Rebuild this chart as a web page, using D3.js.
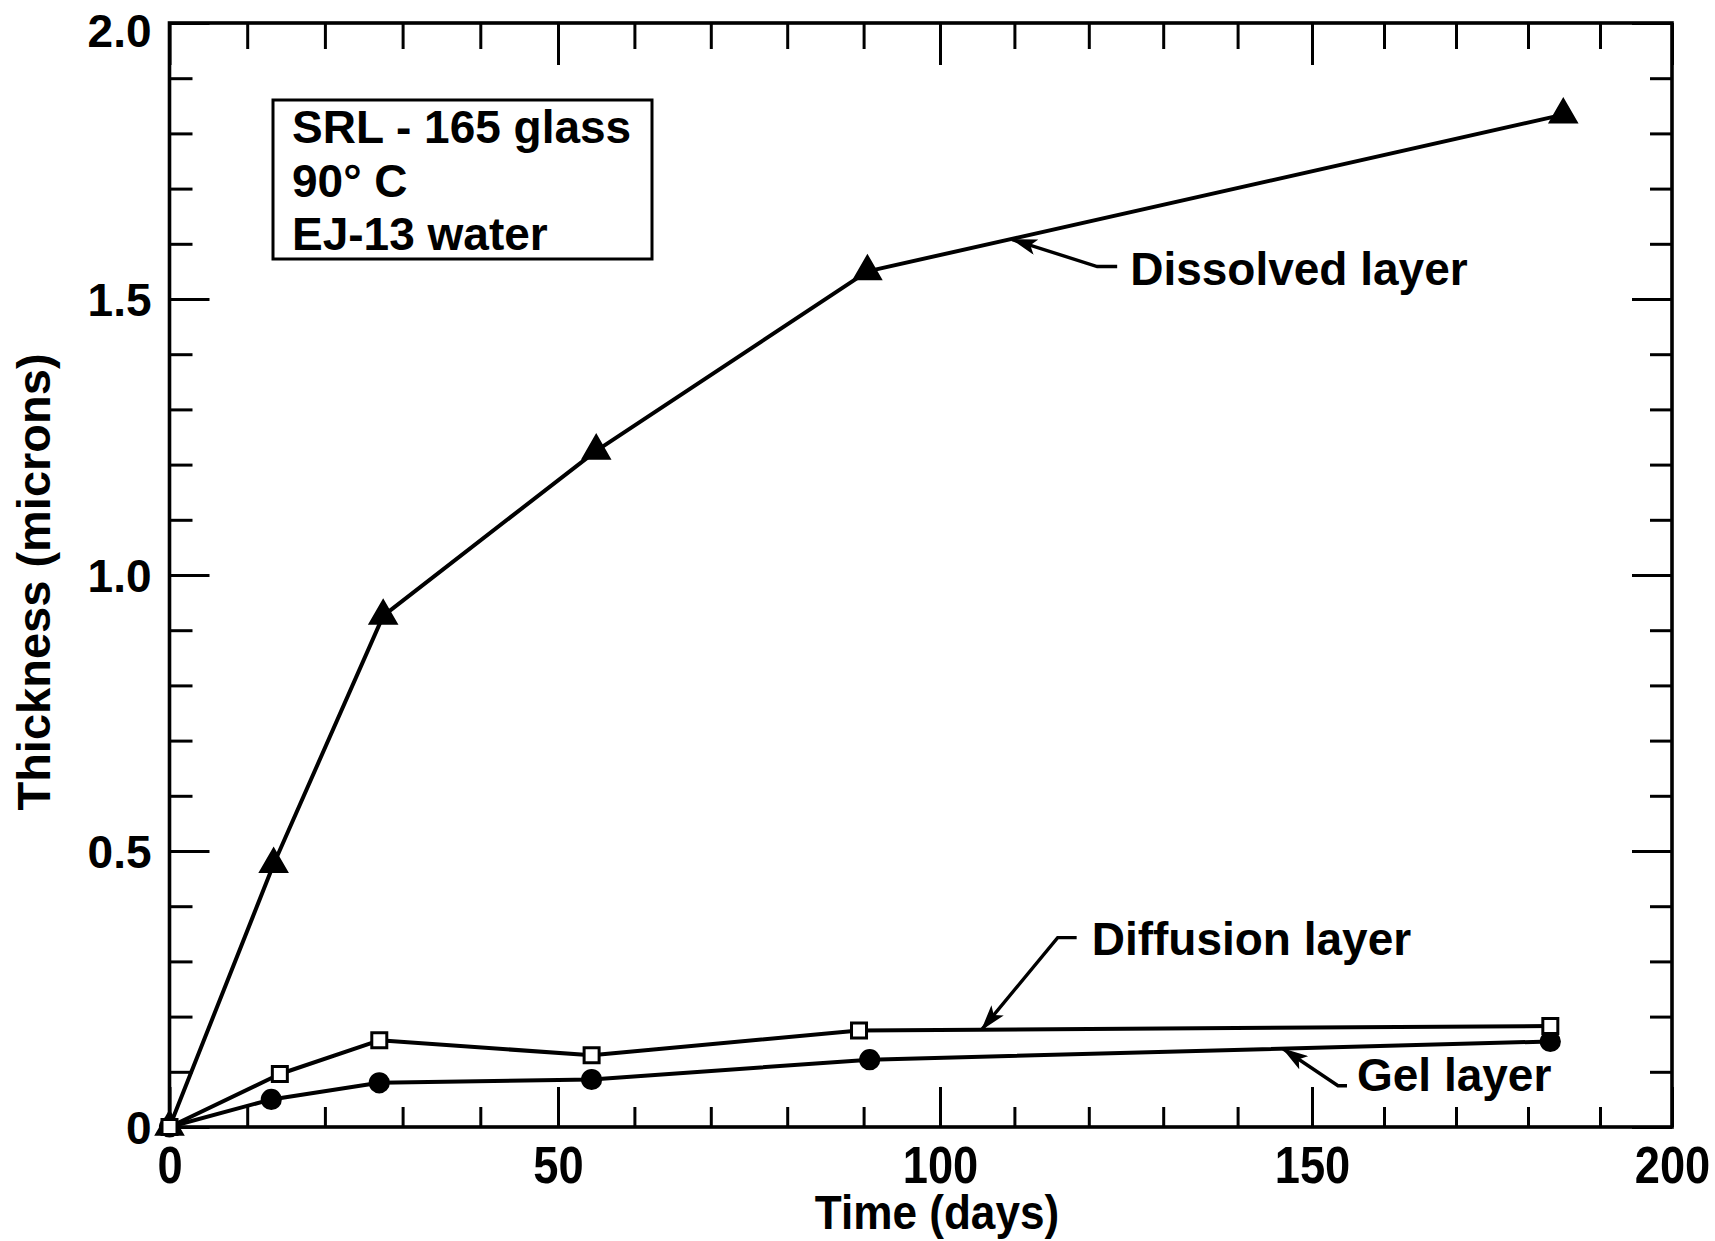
<!DOCTYPE html>
<html>
<head>
<meta charset="utf-8">
<script src="https://cdn.jsdelivr.net/npm/d3@7"></script>
<style>
  body { margin: 0; background: #fff; }
  text { font-family: "Liberation Sans", Arial, sans-serif; font-weight: bold; fill: #000; }
</style>
</head>
<body>
<svg width="1715" height="1241"></svg>
<script>

//
// values (days, microns)
//
var dissolvedDays = [0, 13.4, 27.5, 55.0, 90.5, 184.9];
var dissolvedThk  = [0, 0.476, 0.926, 1.225, 1.550, 1.834];

var diffusionDays = [0, 14.2, 27.0, 54.4, 89.4, 183.1];
var diffusionThk  = [0, 0.096, 0.157, 0.130, 0.175, 0.183];

var gelDays = [0, 13.1, 27.0, 54.4, 90.8, 183.1];
var gelThk  = [0, 0.050, 0.080, 0.086, 0.122, 0.155];

var xMajor = [0, 50, 100, 150, 200];
var yMajor = [0, 0.5, 1.0, 1.5, 2.0];
var yLabels = ["0", "0.5", "1.0", "1.5", "2.0"];

var boxLines = ["SRL - 165 glass", "90\u00b0 C", "EJ-13 water"];

// label, series, day the arrow points at
var notes = [
  {text: "Dissolved layer", days: dissolvedDays, thk: dissolvedThk, at: 109.7},
  {text: "Diffusion layer", days: diffusionDays, thk: diffusionThk, at: 105.6},
  {text: "Gel layer",       days: gelDays,       thk: gelThk,       at: 146.1}
];

var svg = d3.select("svg");

// the scanned x axis is not quite even, so the scale follows the printed ticks
var x = d3.scaleLinear().domain(xMajor).range([169.5, 558, 940, 1312, 1672]);
var y = d3.scaleLinear().domain([0, 2]).range([1127, 23]);

var isMajorX = function (d) { return xMajor.indexOf(d) >= 0; };
var isMajorY = function (d) { return Math.abs(d * 2 - Math.round(d * 2)) < 1e-6; };

var xTicks = d3.range(0, 201, 10);
var yTicks = d3.range(0, 21).map(function (i) { return i / 10; });

//
// frame
//
svg.append("rect")
    .attr("x", x(0)).attr("y", y(2))
    .attr("width", x(200) - x(0)).attr("height", y(0) - y(2))
    .attr("fill", "none").attr("stroke", "#000").attr("stroke-width", 3.6);

function tidy(g) {
  g.select(".domain").remove();
  g.selectAll(".tick line").attr("stroke", "#000").attr("stroke-width", 3);
}

// bottom
var gb = svg.append("g").attr("transform", "translate(0," + y(0) + ")")
  .call(d3.axisBottom(x).tickValues(xTicks).tickSize(0)
      .tickFormat(function (d) { return isMajorX(d) ? d : ""; }))
  .call(tidy);
gb.selectAll(".tick line").attr("y2", function (d) { return isMajorX(d) ? -40 : -20; });
// the printed numbers are a condensed face, so squeeze them a little
gb.selectAll(".tick text").attr("y", 56).attr("dy", 0)
    .attr("transform", "scale(0.87,1)")
    .style("font-size", "52px").style("font-family", null);

// top
var gt = svg.append("g").attr("transform", "translate(0," + y(2) + ")")
  .call(d3.axisTop(x).tickValues(xTicks).tickSize(0).tickFormat(""))
  .call(tidy);
gt.selectAll(".tick line").attr("y2", function (d) { return isMajorX(d) ? 42 : 26; });

// left
var gl = svg.append("g").attr("transform", "translate(" + x(0) + ",0)")
  .call(d3.axisLeft(y).tickValues(yTicks).tickSize(0)
      .tickFormat(function (d) { return isMajorY(d) ? yLabels[Math.round(d * 2)] : ""; }))
  .call(tidy);
gl.selectAll(".tick line").attr("x2", function (d) { return isMajorY(d) ? 40 : 23; });
gl.selectAll(".tick text").attr("x", -18)
    .attr("dy", function (d) { return d === 2 ? "0.52em" : "0.36em"; })
    .style("font-size", "46px").style("font-family", null);

// right
var gr = svg.append("g").attr("transform", "translate(" + x(200) + ",0)")
  .call(d3.axisRight(y).tickValues(yTicks).tickSize(0).tickFormat(""))
  .call(tidy);
gr.selectAll(".tick line").attr("x2", function (d) { return isMajorY(d) ? -40 : -22; });

//
// axis titles
//
svg.append("text")
    .attr("transform", "translate(937,1229) scale(0.9,1)")
    .attr("text-anchor", "middle")
    .style("font-size", "49px")
    .text("Time (days)");

svg.append("text")
    .attr("transform", "translate(50,582) rotate(-90)")
    .attr("text-anchor", "middle")
    .style("font-size", "47px")
    .text("Thickness (microns)");

//
// the series
//
var line = d3.line()
    .x(function (d) { return x(d[0]); })
    .y(function (d) { return y(d[1]); });

function pairs(days, thk) {
  return days.map(function (d, i) { return [d, thk[i]]; });
}

var series = [
  {days: gelDays, thk: gelThk, shape: d3.symbolCircle, size: 260, fill: "#000"},
  {days: dissolvedDays, thk: dissolvedThk, shape: d3.symbolTriangle, size: 280, fill: "#000"},
  {days: diffusionDays, thk: diffusionThk, shape: d3.symbolSquare, size: 225, fill: "#fff"}
];

series.forEach(function (s) {
  svg.append("path")
      .datum(pairs(s.days, s.thk))
      .attr("d", line)
      .attr("fill", "none")
      .attr("stroke", "#000")
      .attr("stroke-width", 4)
      .attr("stroke-linejoin", "round");
});

series.forEach(function (s) {
  svg.selectAll(null)
      .data(pairs(s.days, s.thk))
      .enter().append("path")
      .attr("transform", function (d) { return "translate(" + x(d[0]) + "," + y(d[1]) + ")"; })
      .attr("d", d3.symbol().type(s.shape).size(s.size))
      .attr("fill", s.fill)
      .attr("stroke", "#000")
      .attr("stroke-width", 3);
});

//
// the legend box
//
svg.append("rect")
    .attr("x", 273).attr("y", 100)
    .attr("width", 379).attr("height", 159)
    .attr("fill", "none").attr("stroke", "#000").attr("stroke-width", 3);

svg.selectAll(null)
    .data(boxLines)
    .enter().append("text")
    .attr("x", 292)
    .attr("y", function (d, i) { return 143 + i * 53.5; })
    .style("font-size", "46px")
    .text(function (d) { return d; });

//
// leader arrows for the three curves
//
svg.append("defs").append("marker")
    .attr("id", "head")
    .attr("viewBox", "0 0 26 16")
    .attr("refX", 25).attr("refY", 8)
    .attr("markerWidth", 26).attr("markerHeight", 16)
    .attr("markerUnits", "userSpaceOnUse")
    .attr("orient", "auto-start-reverse")
    .append("path")
    .attr("d", "M0,0 L26,8 L0,16 L6,8 Z")
    .attr("fill", "#000");

// elbow and text offsets from the arrow tip, in pixels
var offsets = [
  {elbow: [85, 27],  end: [105, 27],  label: [118, 45]},
  {elbow: [76, -92], end: [95, -92],  label: [110, -75]},
  {elbow: [55, 37],  end: [64, 37],   label: [74, 42]}
];

notes.forEach(function (n, i) {
  var tipY = d3.scaleLinear().domain(n.days).range(n.thk)(n.at);
  var tx = x(n.at), ty = y(tipY);
  var o = offsets[i];
  svg.append("path")
      .attr("d", "M" + tx + "," + ty +
                 "L" + (tx + o.elbow[0]) + "," + (ty + o.elbow[1]) +
                 "L" + (tx + o.end[0]) + "," + (ty + o.end[1]))
      .attr("fill", "none")
      .attr("stroke", "#000")
      .attr("stroke-width", 3.4)
      .attr("marker-start", "url(#head)");
  svg.append("text")
      .attr("x", tx + o.label[0])
      .attr("y", ty + o.label[1])
      .style("font-size", "46px")
      .text(n.text);
});

</script>
</body>
</html>
